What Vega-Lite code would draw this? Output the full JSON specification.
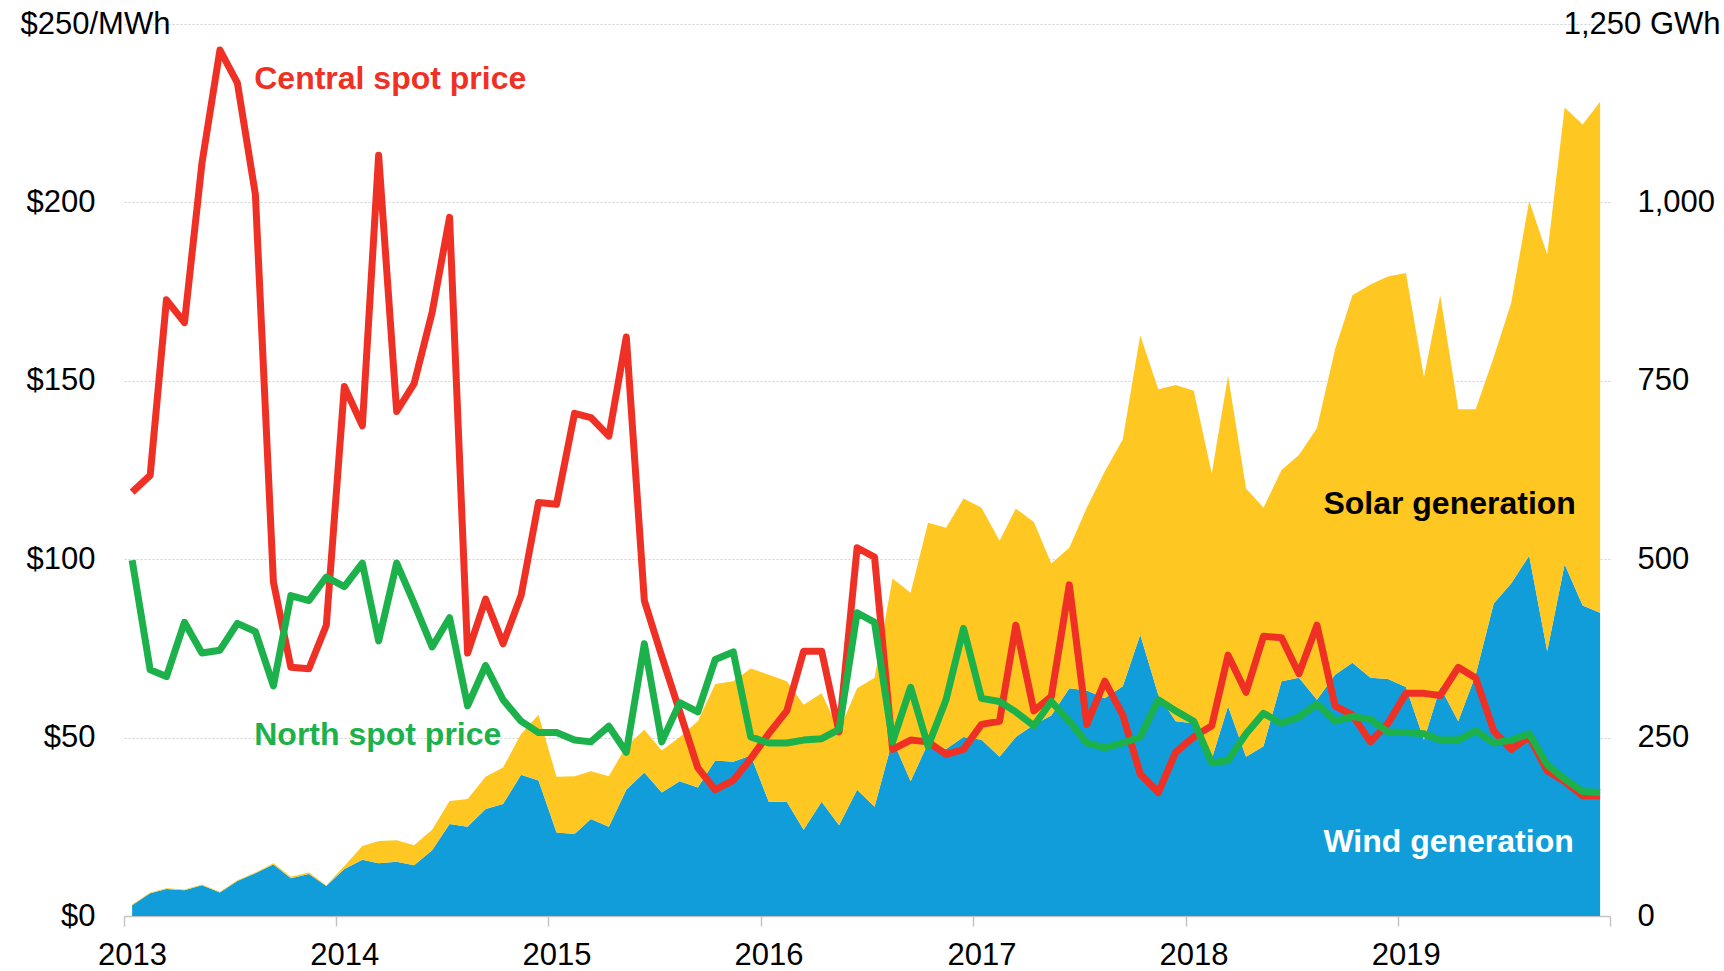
{
  "$schema": "https://vega.github.io/schema/vega-lite/v6.json",
  "width": 1486,
  "height": 892,
  "autosize": {"type": "none"},
  "padding": {"left": 124, "top": 24, "right": 114, "bottom": 55},
  "background": "white",
  "config": {"view": {"stroke": null}, "font": "Liberation Sans"},
  "datasets": {
    "labels": [
      {"date": "2013/08/13", "price": 234.6, "label": "Central spot price"},
      {"date": "2013/08/13", "price": 50.6, "label": "North spot price"},
      {"date": "2018/08/26", "price": 115.6, "label": "Solar generation"},
      {"date": "2018/08/26", "price": 20.7, "label": "Wind generation"}
    ]
  },
  "data": {"values": [
    {"date":"2013/01/15","central":118.8,"north":99.7,"wind":15,"solar":1},
    {"date":"2013/02/15","central":123.5,"north":69.0,"wind":32,"solar":1},
    {"date":"2013/03/15","central":172.7,"north":67.1,"wind":38,"solar":1},
    {"date":"2013/04/15","central":166.3,"north":82.3,"wind":36,"solar":1},
    {"date":"2013/05/15","central":210.9,"north":73.7,"wind":43,"solar":1},
    {"date":"2013/06/15","central":242.7,"north":74.5,"wind":33,"solar":1},
    {"date":"2013/07/15","central":233.5,"north":82.0,"wind":49,"solar":1},
    {"date":"2013/08/15","central":202.2,"north":79.7,"wind":60,"solar":1},
    {"date":"2013/09/15","central":93.6,"north":64.5,"wind":72,"solar":2},
    {"date":"2013/10/15","central":69.7,"north":89.8,"wind":53,"solar":2},
    {"date":"2013/11/15","central":69.3,"north":88.4,"wind":59,"solar":2},
    {"date":"2013/12/15","central":81.5,"north":95.0,"wind":42,"solar":1},
    {"date":"2014/01/15","central":148.4,"north":92.3,"wind":66,"solar":4},
    {"date":"2014/02/15","central":137.4,"north":98.9,"wind":79,"solar":19},
    {"date":"2014/03/15","central":213.2,"north":77.1,"wind":74,"solar":31},
    {"date":"2014/04/15","central":141.4,"north":98.9,"wind":76,"solar":30},
    {"date":"2014/05/15","central":149.2,"north":87.6,"wind":71,"solar":28},
    {"date":"2014/06/15","central":169.2,"north":75.4,"wind":92,"solar":29},
    {"date":"2014/07/15","central":195.8,"north":83.6,"wind":129,"solar":32},
    {"date":"2014/08/15","central":73.7,"north":58.9,"wind":125,"solar":39},
    {"date":"2014/09/15","central":88.8,"north":70.2,"wind":150,"solar":45},
    {"date":"2014/10/15","central":76.3,"north":60.6,"wind":157,"solar":51},
    {"date":"2014/11/15","central":89.8,"north":54.6,"wind":198,"solar":57},
    {"date":"2014/12/15","central":115.9,"north":51.4,"wind":190,"solar":92},
    {"date":"2015/01/15","central":115.4,"north":51.4,"wind":117,"solar":78},
    {"date":"2015/02/15","central":140.9,"north":49.3,"wind":115,"solar":81},
    {"date":"2015/03/15","central":139.7,"north":48.8,"wind":136,"solar":67},
    {"date":"2015/04/15","central":134.5,"north":53.2,"wind":125,"solar":71},
    {"date":"2015/05/15","central":162.3,"north":45.9,"wind":177,"solar":61},
    {"date":"2015/06/15","central":88.4,"north":76.3,"wind":201,"solar":60},
    {"date":"2015/07/15","central":72.8,"north":48.8,"wind":173,"solar":59},
    {"date":"2015/08/15","central":57.2,"north":59.8,"wind":189,"solar":62},
    {"date":"2015/09/15","central":41.5,"north":57.2,"wind":180,"solar":93},
    {"date":"2015/10/15","central":35.4,"north":71.9,"wind":218,"solar":107},
    {"date":"2015/11/15","central":38.0,"north":74.0,"wind":216,"solar":113},
    {"date":"2015/12/15","central":44.1,"north":50.2,"wind":225,"solar":122},
    {"date":"2016/01/15","central":51.1,"north":48.5,"wind":160,"solar":178},
    {"date":"2016/02/15","central":57.5,"north":48.5,"wind":160,"solar":169},
    {"date":"2016/03/15","central":74.2,"north":49.3,"wind":121,"solar":175},
    {"date":"2016/04/15","central":74.2,"north":49.7,"wind":160,"solar":152},
    {"date":"2016/05/15","central":51.6,"north":52.3,"wind":127,"solar":133},
    {"date":"2016/06/15","central":103.2,"north":85.0,"wind":177,"solar":142},
    {"date":"2016/07/15","central":100.6,"north":82.3,"wind":153,"solar":181},
    {"date":"2016/08/15","central":46.7,"north":48.8,"wind":247,"solar":226},
    {"date":"2016/09/15","central":49.3,"north":64.1,"wind":189,"solar":264},
    {"date":"2016/10/15","central":48.8,"north":47.6,"wind":242,"solar":309},
    {"date":"2016/11/15","central":45.3,"north":60.6,"wind":234,"solar":310},
    {"date":"2016/12/15","central":46.7,"north":80.6,"wind":251,"solar":334},
    {"date":"2017/01/15","central":53.7,"north":61.0,"wind":247,"solar":325},
    {"date":"2017/02/15","central":54.6,"north":60.1,"wind":223,"solar":303},
    {"date":"2017/03/15","central":81.5,"north":57.2,"wind":251,"solar":320},
    {"date":"2017/04/15","central":57.5,"north":53.3,"wind":268,"solar":284},
    {"date":"2017/05/15","central":61.5,"north":60.1,"wind":281,"solar":213},
    {"date":"2017/06/15","central":92.8,"north":54.6,"wind":319,"solar":197},
    {"date":"2017/07/15","central":53.7,"north":48.5,"wind":316,"solar":256},
    {"date":"2017/08/15","central":65.8,"north":47.1,"wind":305,"solar":318},
    {"date":"2017/09/15","central":56.3,"north":48.5,"wind":322,"solar":346},
    {"date":"2017/10/15","central":39.8,"north":50.2,"wind":394,"solar":420},
    {"date":"2017/11/15","central":34.6,"north":60.6,"wind":310,"solar":428},
    {"date":"2017/12/15","central":45.9,"north":57.5,"wind":273,"solar":471},
    {"date":"2018/01/15","central":50.2,"north":54.6,"wind":270,"solar":466},
    {"date":"2018/02/15","central":53.3,"north":42.9,"wind":220,"solar":400},
    {"date":"2018/03/15","central":73.1,"north":43.6,"wind":294,"solar":463},
    {"date":"2018/04/15","central":62.7,"north":51.1,"wind":223,"solar":376},
    {"date":"2018/05/15","central":78.4,"north":56.8,"wind":238,"solar":334},
    {"date":"2018/06/15","central":78.0,"north":54.0,"wind":329,"solar":296},
    {"date":"2018/07/15","central":67.9,"north":55.8,"wind":334,"solar":312},
    {"date":"2018/08/15","central":81.5,"north":59.4,"wind":303,"solar":381},
    {"date":"2018/09/15","central":58.9,"north":54.6,"wind":338,"solar":456},
    {"date":"2018/10/15","central":56.3,"north":55.9,"wind":355,"solar":515},
    {"date":"2018/11/15","central":48.8,"north":55.1,"wind":334,"solar":551},
    {"date":"2018/12/15","central":54.0,"north":51.6,"wind":332,"solar":564},
    {"date":"2019/01/15","central":62.4,"north":51.4,"wind":321,"solar":580},
    {"date":"2019/02/15","central":62.4,"north":51.1,"wind":247,"solar":508},
    {"date":"2019/03/15","central":61.8,"north":49.3,"wind":321,"solar":549},
    {"date":"2019/04/15","central":69.7,"north":49.3,"wind":273,"solar":437},
    {"date":"2019/05/15","central":66.7,"north":51.9,"wind":338,"solar":372},
    {"date":"2019/06/15","central":51.9,"north":48.5,"wind":438,"solar":345},
    {"date":"2019/07/15","central":46.7,"north":49.3,"wind":466,"solar":393},
    {"date":"2019/08/15","central":50.2,"north":51.1,"wind":505,"solar":497},
    {"date":"2019/09/15","central":40.7,"north":42.4,"wind":371,"solar":556},
    {"date":"2019/10/15","central":37.7,"north":38.4,"wind":493,"solar":640},
    {"date":"2019/11/15","central":33.7,"north":34.9,"wind":435,"solar":674},
    {"date":"2019/12/15","central":33.7,"north":34.6,"wind":425,"solar":716}
  ]},
  "encoding": {
    "x": {
      "field": "date", "type": "temporal",
      "scale": {"domain": [{"year": 2013, "month": 1, "date": 1}, {"year": 2020, "month": 1, "date": 1}]},
      "axis": {
        "title": null,
        "tickCount": {"interval": "year", "step": 1},
        "labelExpr": "year(datum.value) > 2019 ? '' : timeFormat(datum.value, '%Y')",
        "labelFont": "Liberation Sans", "labelFontSize": 31, "labelColor": "#000000",
        "labelPadding": 14, "labelOffset": 8, "labelFlush": false, "labelOverlap": false,
        "tickSize": 10, "tickColor": "#c4c4c4", "tickWidth": 1.5,
        "domainColor": "#c4c4c4", "domainWidth": 1.5,
        "grid": false
      }
    }
  },
  "layer": [
    {
      "transform": [{"fold": ["wind", "solar"], "as": ["source", "gwh"]}],
      "mark": {"type": "area", "interpolate": "linear", "opacity": 1},
      "encoding": {
        "y": {
          "field": "gwh", "type": "quantitative", "stack": "zero",
          "scale": {"domain": [0, 1250], "nice": false},
          "axis": {
            "orient": "right", "values": [0, 250, 500, 750, 1000, 1250],
            "labelExpr": "datum.value == 1250 ? '' : format(datum.value, ',')",
            "labelFont": "Liberation Sans", "labelFontSize": 31, "labelColor": "#000000",
            "labelAlign": "left", "labelBaseline": "middle", "labelPadding": 27,
            "ticks": false, "domain": false, "grid": false,
            "title": "1,250 GWh", "titleAngle": 0, "titleAlign": "right", "titleBaseline": "middle",
            "titleX": 110, "titleY": 0, "titleFont": "Liberation Sans", "titleFontSize": 31,
            "titleFontWeight": "normal", "titleColor": "#000000"
          }
        },
        "color": {
          "field": "source", "type": "nominal",
          "scale": {"domain": ["wind", "solar"], "range": ["#109dd9", "#fec722"]},
          "legend": null
        },
        "order": {"field": "source", "sort": "descending"}
      }
    },
    {
      "layer": [
        {
          "mark": {"type": "line", "color": "#ee3124", "strokeWidth": 7, "strokeJoin": "round"},
          "encoding": {
            "y": {
              "field": "central", "type": "quantitative",
              "scale": {"domain": [0, 250], "nice": false},
              "axis": {
                "orient": "left", "values": [0, 50, 100, 150, 200, 250],
                "labelExpr": "datum.value == 250 ? '' : '$' + datum.value",
                "labelFont": "Liberation Sans", "labelFontSize": 31, "labelColor": "#000000",
                "labelAlign": "right", "labelBaseline": "middle", "labelPadding": 29,
                "ticks": false, "domain": false,
                "grid": true, "gridColor": "#cfcfcf", "gridDash": [2, 2], "gridWidth": 1,
                "title": "$250/MWh", "titleAngle": 0, "titleAlign": "left", "titleBaseline": "middle",
                "titleX": -104, "titleY": 0, "titleFont": "Liberation Sans", "titleFontSize": 31,
                "titleFontWeight": "normal", "titleColor": "#000000"
              }
            }
          }
        },
        {
          "mark": {"type": "line", "color": "#1cb14b", "strokeWidth": 7, "strokeJoin": "round"},
          "encoding": {"y": {"field": "north", "type": "quantitative"}}
        },
        {
          "data": {"name": "labels"},
          "transform": [{"filter": "datum.label == 'Central spot price'"}],
          "mark": {"type": "text", "align": "left", "baseline": "middle", "font": "Liberation Sans", "fontSize": 32, "fontWeight": "bold", "color": "#ee3124"},
          "encoding": {
            "y": {"field": "price", "type": "quantitative"},
            "text": {"field": "label"}
          }
        },
        {
          "data": {"name": "labels"},
          "transform": [{"filter": "datum.label == 'North spot price'"}],
          "mark": {"type": "text", "align": "left", "baseline": "middle", "font": "Liberation Sans", "fontSize": 32, "fontWeight": "bold", "color": "#1cb14b"},
          "encoding": {
            "y": {"field": "price", "type": "quantitative"},
            "text": {"field": "label"}
          }
        },
        {
          "data": {"name": "labels"},
          "transform": [{"filter": "datum.label == 'Solar generation'"}],
          "mark": {"type": "text", "align": "left", "baseline": "middle", "font": "Liberation Sans", "fontSize": 32, "fontWeight": "bold", "color": "#000000"},
          "encoding": {
            "y": {"field": "price", "type": "quantitative"},
            "text": {"field": "label"}
          }
        },
        {
          "data": {"name": "labels"},
          "transform": [{"filter": "datum.label == 'Wind generation'"}],
          "mark": {"type": "text", "align": "left", "baseline": "middle", "font": "Liberation Sans", "fontSize": 32, "fontWeight": "bold", "color": "#ffffff"},
          "encoding": {
            "y": {"field": "price", "type": "quantitative"},
            "text": {"field": "label"}
          }
        }
      ]
    }
  ],
  "resolve": {"scale": {"y": "independent"}}
}
